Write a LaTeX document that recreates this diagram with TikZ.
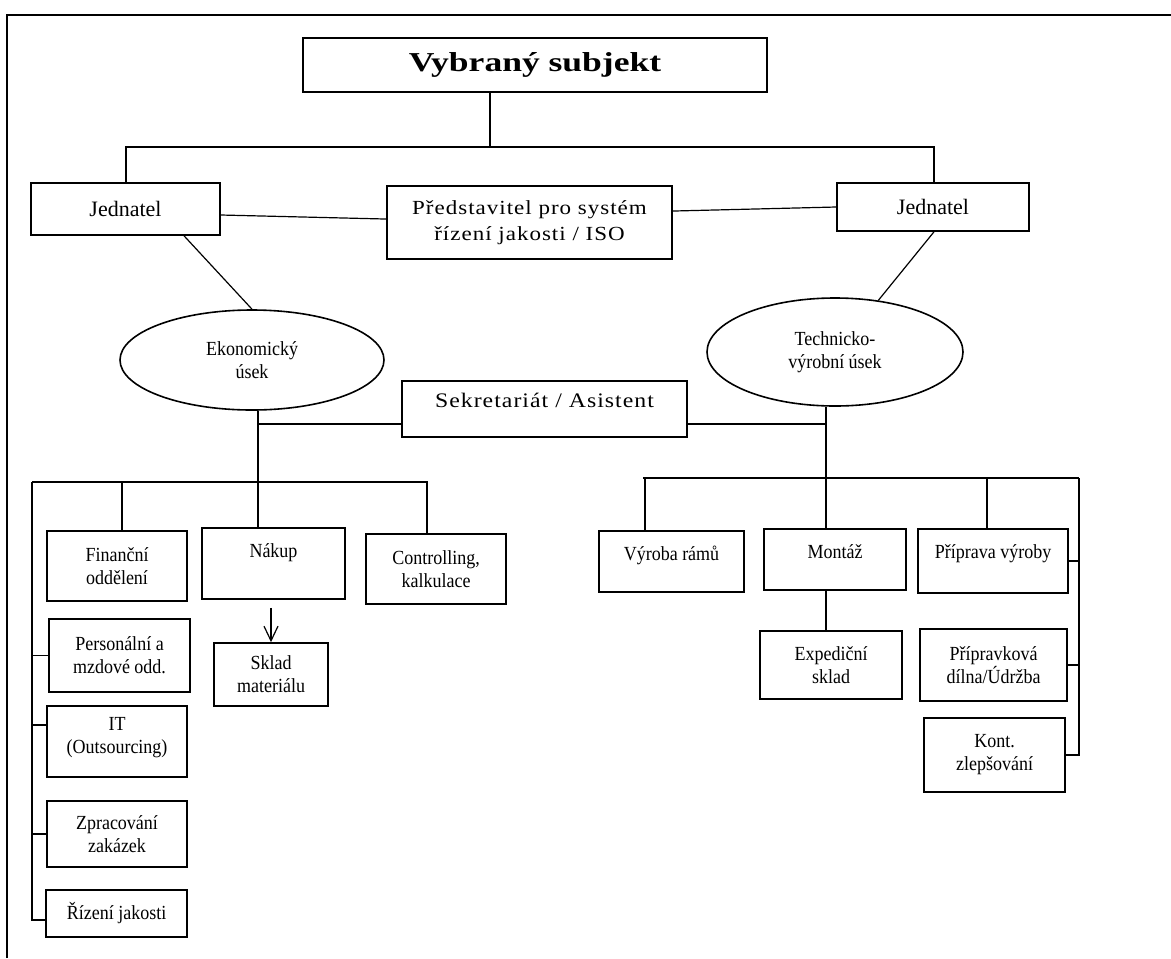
\documentclass[tikz,border=0pt]{standalone}
\usepackage{fontspec}
\setmainfont{Liberation Serif}
\newfontfamily\titlefont[FakeStretch=1.3]{Liberation Serif}
\newfontfamily\spacedfont[FakeStretch=1.15,LetterSpace=5]{Liberation Serif}
\newfontfamily\narrowfont[FakeStretch=0.9]{Liberation Serif}
\newcommand\nodefont{\narrowfont\fontsize{15}{17.25}\selectfont}
\newcommand\jfont{\fontsize{16.5}{19}\selectfont}
\usetikzlibrary{shapes.geometric,arrows.meta}
\begin{document}
\begin{tikzpicture}[x=0.75pt,y=-0.75pt,
  box/.style={draw, line width=1.2pt, align=center, inner sep=1pt, font=\nodefont},
  ell/.style={draw, ellipse, line width=1.2pt, align=center, inner sep=0pt, font=\nodefont},
  sz/.style 2 args={minimum width=#1*0.75pt, minimum height=#2*0.75pt},
  conn/.style={line width=0.9pt},
  frame/.style={line width=1.7pt}]
\path[use as bounding box] (0,0) rectangle (1171,958);
\draw[frame] (7,958) -- (7,15) -- (1171,15);

% top level
\node[box, sz={464}{54}, font=\titlefont\fontsize{20.5}{24}\selectfont\bfseries] (top) at (535,65) {Vybraný subjekt};
\node[box, sz={189}{52}, font=\jfont] (jl) at (125.5,209) {Jednatel};
\node[box, sz={192}{48}, font=\jfont] (jr) at (933,207) {Jednatel};
\node[box, sz={285}{73}, font=\spacedfont\fontsize{15}{19.5}\selectfont] (pred) at (529.5,222.5) {Představitel pro systém\\řízení jakosti / ISO};
\node[ell, sz={264}{100}] (ek) at (252,360) {Ekonomický\\úsek};
\node[ell, sz={256}{108}] (te) at (835,352) {Technicko-\\výrobní úsek};
\node[box, sz={285}{56}, font=\spacedfont\fontsize{15.5}{20}\selectfont] (sek) at (544.5,409) {Sekretariát / Asistent\\[-6.5pt]\mbox{}};

% economic department
\node[box, sz={140}{70}] (fin) at (117,566) {Finanční\\oddělení};
\node[box, sz={143}{71}] (nak) at (273.5,563.5) {Nákup\\[1.5pt]\mbox{}};
\node[box, sz={140}{70}] (con) at (436,569) {Controlling,\\kalkulace};
\node[box, sz={114}{63}] (skl) at (271,674.5) {Sklad\\materiálu};
\node[box, sz={141}{73}] (per) at (119.5,655.5) {Personální a\\mzdové odd.};
\node[box, sz={140}{71}] (it) at (117,741.5) {IT\\(Outsourcing)\\[-8.25pt]\mbox{}};
\node[box, sz={140}{66}] (zpr) at (117,834) {Zpracování\\zakázek};
\node[box, sz={141}{47}] (riz) at (116.5,913.5) {Řízení jakosti};

% technical department
\node[box, sz={145}{61}] (vyr) at (671.5,561.5) {Výroba rámů\\[-4.5pt]\mbox{}};
\node[box, sz={142}{61}] (mon) at (835,559.5) {Montáž\\[-6pt]\mbox{}};
\node[box, sz={150}{64}] (pri) at (993,561) {Příprava výroby\\[-3.75pt]\mbox{}};
\node[box, sz={142}{68}] (exp) at (831,665) {Expediční\\sklad};
\node[box, sz={147}{72}] (ppk) at (993.5,665) {Přípravková\\dílna/Údržba};
\node[box, sz={141}{74}] (kon) at (994.5,755) {Kont.\\zlepšování};

% top connectors
\coordinate (b1) at (490,147);
\coordinate (b1L) at (126,147);
\coordinate (b1R) at (934,147);
\draw[conn] (top.south -| b1) -- (b1);
\draw[conn] (jl.north -| b1L) -- (b1L) -- (b1R) -- (jr.north -| b1R);
\draw[conn] ([yshift=-4.5pt]jl.east) -- ([yshift=2.6pt]pred.west);
\draw[conn] ([yshift=8.6pt]pred.east) -- (jr.west);
\draw[conn] ([xshift=43.9pt]jl.south) -- (ek.north);
\draw[conn] ([xshift=0.75pt]jr.south) -- (te.50);

% left tree
\coordinate (lc) at (258,482);
\coordinate (lL) at (32,482);
\coordinate (lR) at (427,482);
\coordinate (fd) at (122,482);
\coordinate (sekL) at ([yshift=-11.25pt]sek.west);
\coordinate (sekR) at ([yshift=-11.25pt]sek.east);
\coordinate (itc) at ([yshift=12.4pt]it.west);
\coordinate (rizc) at ([yshift=-4.9pt]riz.west);
\draw[conn] (ek.south -| lc) -- (lc);
\draw[conn] (sekL) -- (sekL -| lc);
\draw[conn] (lL) -- (lR) -- (con.north -| lR);
\draw[conn] (fd) -- (fin.north -| fd);
\draw[conn] (lc) -- (nak.north -| lc);
\draw[conn] (lL) |- (rizc);
\draw[conn] (per.west -| lL) -- (per.west);
\draw[conn] (itc -| lL) -- (itc);
\draw[conn] (zpr.west -| lL) -- (zpr.west);
\draw[conn, -{Straight Barb[length=11pt,width=10.5pt]}, shorten <=6pt] (skl.north |- nak.south) -- (skl.north);

% right tree
\coordinate (rc) at (826,478);
\coordinate (rL) at (643,478);
\coordinate (rR) at (1079,478);
\coordinate (vd) at (645,478);
\coordinate (pd) at (987,478);
\draw[conn] (te.south -| rc) -- (rc);
\draw[conn] (sekR) -- (sekR -| rc);
\draw[conn] (rL) -- (rR);
\draw[conn] (vd) -- (vyr.north -| vd);
\draw[conn] (rc) -- (mon.north -| rc);
\draw[conn] (pd) -- (pri.north -| pd);
\draw[conn] (rR) |- (kon.east);
\draw[conn] (pri.east) -- (pri.east -| rR);
\draw[conn] (ppk.east) -- (ppk.east -| rR);
\draw[conn] (mon.south -| rc) -- (exp.north -| rc);
\end{tikzpicture}
\end{document}
